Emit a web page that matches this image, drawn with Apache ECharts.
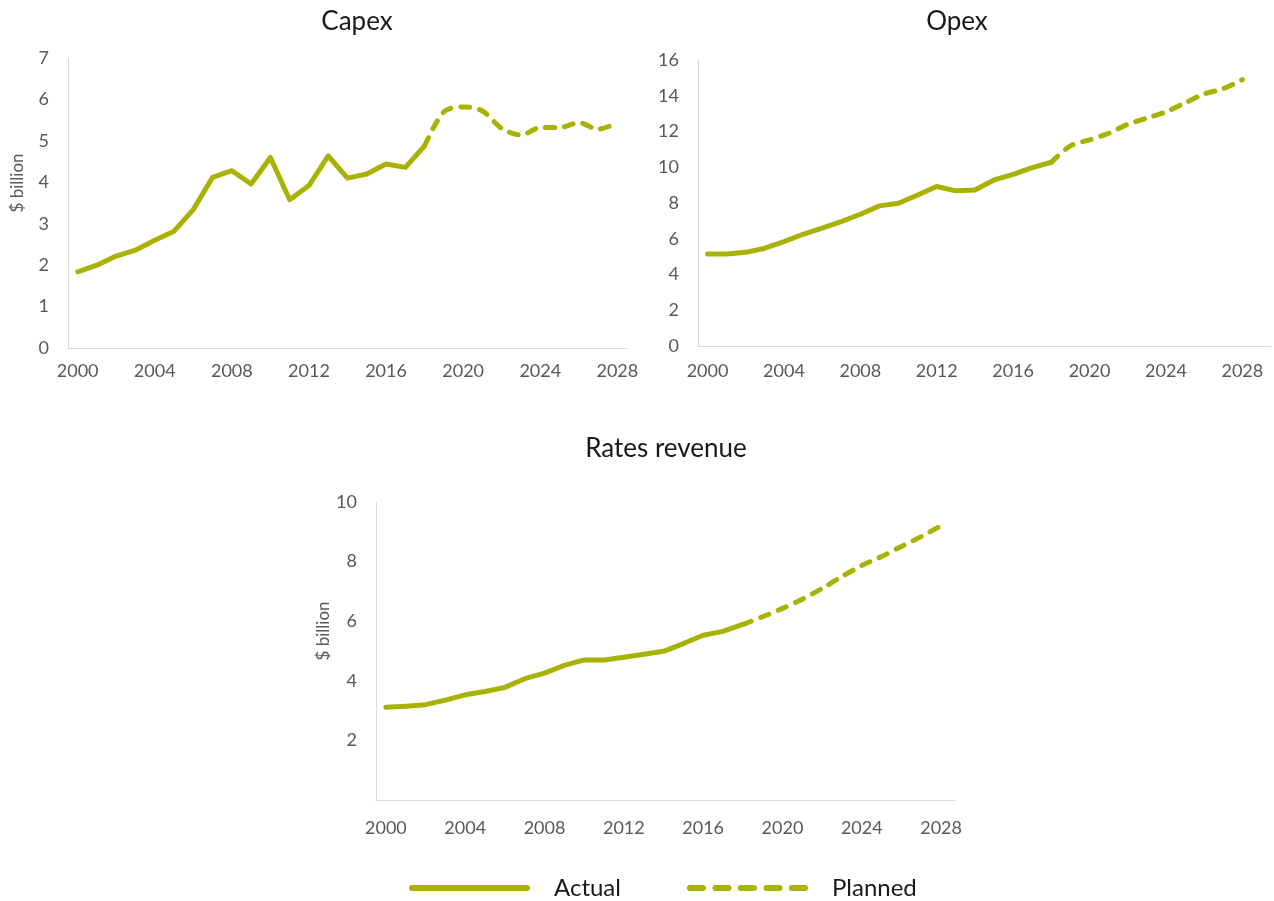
<!DOCTYPE html>
<html>
<head>
<meta charset="utf-8">
<script src="https://cdn.jsdelivr.net/npm/echarts@6/dist/echarts.min.js"></script>
<style>
html,body{margin:0;padding:0;background:#fff;}
#c{width:1274px;height:901px;}
</style>
</head>
<body>
<div id="c"></div>
<script>
const years = [2000,2001,2002,2003,2004,2005,2006,2007,2008,2009,2010,2011,2012,2013,2014,2015,2016,2017,2018,2019,2020,2021,2022,2023,2024,2025,2026,2027,2028];
const tickYears = [2000,2004,2008,2012,2016,2020,2024,2028];
const actualYears = years.slice(0, 19);
const plannedYears = years.slice(18);

const capexActual = [1.84,2.0,2.22,2.36,2.6,2.82,3.34,4.12,4.28,3.96,4.6,3.58,3.92,4.64,4.1,4.2,4.44,4.36,4.88];
const capexPlanned = [4.88,5.7,5.82,5.72,5.3,5.14,5.32,5.32,5.44,5.28,5.44];
const opexActual = [5.15,5.15,5.24,5.47,5.84,6.25,6.59,6.96,7.37,7.84,7.99,8.45,8.92,8.68,8.73,9.29,9.6,9.98,10.28];
const opexPlanned = [10.28,11.2,11.53,11.9,12.4,12.75,13.1,13.6,14.1,14.4,14.9];
const ratesActual = [3.11,3.15,3.2,3.35,3.53,3.64,3.78,4.07,4.26,4.52,4.7,4.7,4.79,4.89,4.99,5.25,5.53,5.66,5.89];
const ratesPlanned = [5.89,6.15,6.43,6.74,7.1,7.5,7.87,8.17,8.51,8.84,9.21];

const titles = ['Capex','Opex','Rates revenue'];
const yName = '$ billion';
const legendNames = ['Actual','Planned'];

const GREEN = '#A9B200';
const AXIS = '#d9d9d9';
const LABEL = '#595959';
const FONT = 'Lato';

function pairs(xs, ys){ return xs.map((x,i)=>[x, ys[i]]); }

// legend icons: a solid rounded bar and a row of rounded dashes
function roundBar(x0, w, h){
  const r = h/2;
  return 'M'+(x0+r)+',0 L'+(x0+w-r)+',0 A'+r+','+r+' 0 0 1 '+(x0+w-r)+','+h+' L'+(x0+r)+','+h+' A'+r+','+r+' 0 0 1 '+(x0+r)+',0 Z ';
}
const solidIcon = 'path://' + roundBar(0, 121, 6);
let dashPath = '';
for (let i=0;i<5;i++){ dashPath += roundBar(i*25.5, 19, 6); }
const dashIcon = 'path://' + dashPath;

function xAxis(idx, max, margin){
  return {
    type:'value', gridIndex: idx, min:1999.5, max: max,
    axisLine:{show:true, lineStyle:{color:AXIS, width:1}},
    axisTick:{show:false},
    splitLine:{show:false},
    axisLabel:{customValues: tickYears, formatter: v => String(v), color:LABEL, fontFamily:FONT, fontSize:18, margin: margin}
  };
}
function yAxis(idx, max, interval, name, showMin){
  return {
    type:'value', gridIndex: idx, min:0, max:max, interval:interval,
    axisLine:{show:true, lineStyle:{color:AXIS, width:1}},
    axisTick:{show:false},
    splitLine:{show:false},
    axisLabel:{color:LABEL, fontFamily:FONT, fontSize:18, margin:19, showMinLabel: showMin},
    name: name || '',
    nameLocation:'middle',
    nameGap: 42,
    nameRotate: 90,
    nameTextStyle:{color:LABEL, fontFamily:FONT, fontSize:17, padding:[0,0,0,40]}
  };
}
function lineSeries(name, idx, xs, ys, dashed){
  return {
    name:name, type:'line', xAxisIndex:idx, yAxisIndex:idx,
    data: pairs(xs, ys), symbol:'none', smooth: dashed ? 0.3 : false,
    lineStyle:{color:GREEN, width:5, type: dashed ? [9,10] : 'solid', cap:'round', join:'round'},
    itemStyle:{color:GREEN},
    emphasis:{disabled:true}, silent:true
  };
}

const titleStyle = {fontFamily:FONT, fontSize:26, fontWeight:'normal', color:'#1a1a1a'};
const chart = echarts.init(document.getElementById('c'), null, {renderer:'canvas'});
chart.setOption({
  animation:false,
  backgroundColor:'#fff',
  title:[
    {text:titles[0], left:352, top:4, textAlign:'center', textStyle:titleStyle},
    {text:titles[1], left:952, top:4, textAlign:'center', textStyle:titleStyle},
    {text:titles[2], left:661, top:431, textAlign:'center', textStyle:titleStyle}
  ],
  grid:[
    {left:68, top:58, width:559, height:290},
    {left:698, top:60, width:573, height:286},
    {left:376, top:502, width:579, height:298}
  ],
  xAxis:[ xAxis(0, 2028.5, 14), xAxis(1, 2029.5, 16), xAxis(2, 2028.7, 19) ],
  yAxis:[
    yAxis(0, 7, 1, yName, true),
    yAxis(1, 16, 2, '', true),
    yAxis(2, 10, 2, yName, false)
  ],
  legend:{
    data:[
      {name:legendNames[0], icon: solidIcon, itemStyle:{color:GREEN, borderWidth:0}},
      {name:legendNames[1], icon: dashIcon, itemStyle:{color:GREEN, borderWidth:0}}
    ],
    left:404, top:871, itemWidth:121, itemHeight:6, itemGap:66,
    itemStyle:{color:GREEN, borderWidth:0},
    lineStyle:{width:0},
    textStyle:{fontFamily:FONT, fontSize:24, color:'#1a1a1a', padding:[0,0,0,19]}
  },
  series:[
    lineSeries(legendNames[0],0,actualYears,capexActual,false),
    lineSeries(legendNames[1],0,plannedYears,capexPlanned,true),
    lineSeries(legendNames[0],1,actualYears,opexActual,false),
    lineSeries(legendNames[1],1,plannedYears,opexPlanned,true),
    lineSeries(legendNames[0],2,actualYears,ratesActual,false),
    lineSeries(legendNames[1],2,plannedYears,ratesPlanned,true)
  ]
});
</script>
</body>
</html>
